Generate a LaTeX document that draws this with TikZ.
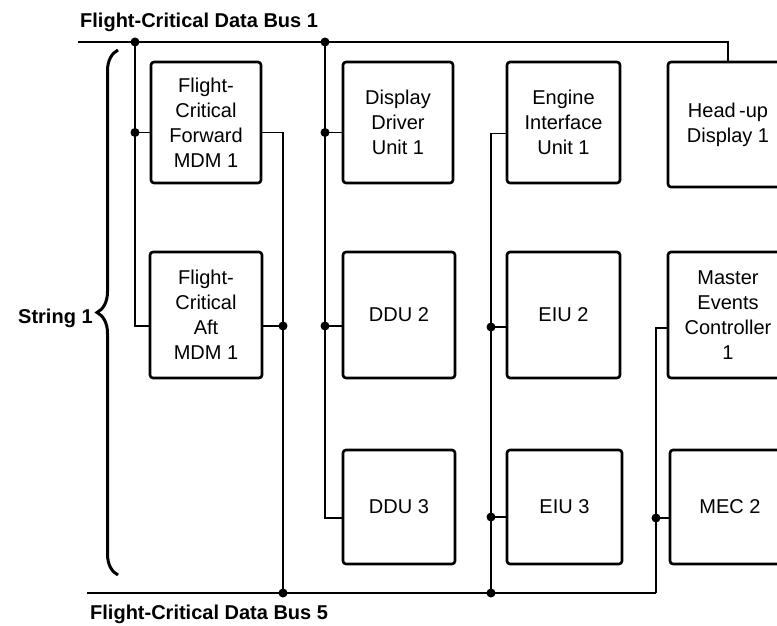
\documentclass[tikz,border=0pt]{standalone}
\usepackage{fontspec}
\setmainfont{Liberation Sans}
\usetikzlibrary{decorations.pathreplacing}

\begin{document}
\begin{tikzpicture}[x=1pt, y=-1pt,
        unit/.style={rectangle, draw=black, line width=2.6pt, rounded corners=3pt,
            minimum width=110pt, minimum height=121pt, inner sep=0pt, align=center,
            font=\fontsize{20}{25}\selectfont},
        wire/.style={draw=black, line width=1.2pt},
        bus/.style={draw=black, line width=1.4pt},
        dot/.style={circle, fill=black, inner sep=0pt, minimum size=9pt},
        lbl/.style={font=\bfseries\fontsize{20}{24}\selectfont, inner sep=0pt}
    ]
        \useasboundingbox (0,0) rectangle (777,626);
        \clip (0,0) rectangle (777,626);

        % Units
        \node[unit] (fwd) at (206,122.5) {Flight-\\Critical\\Forward\\MDM 1};
        \node[unit, minimum width=112pt, minimum height=126pt] (aft) at (206,315) {Flight-\\Critical\\Aft\\MDM 1};
        \node[unit] (ddu1) at (398,122.5) {Display\\Driver\\Unit 1};
        \node[unit, minimum width=112pt, minimum height=126pt] (ddu2) at (399,315) {DDU 2};
        \node[unit, minimum width=112pt, minimum height=114pt] (ddu3) at (399,507) {DDU 3};
        \node[unit, minimum width=113pt] (eiu1) at (563.5,122.5) {Engine\\Interface\\Unit 1};
        \node[unit, minimum width=113pt, minimum height=126pt] (eiu2) at (563.5,315) {EIU 2};
        \node[unit, minimum width=115pt, minimum height=114pt] (eiu3) at (564.5,507) {EIU 3};
        \node[unit, minimum width=120pt, minimum height=125pt] (hud) at (728,124.5) {Head\,-up\\Display 1};
        \node[unit, minimum width=120pt, minimum height=126pt] (mec1) at (728,315) {Master\\Events\\Controller\\1};
        \node[unit, minimum width=120pt, minimum height=114pt] (mec2) at (730,507) {MEC 2};

        % Labels
        \node[lbl, anchor=base west] (bus1) at (80,28) {Flight-Critical Data Bus 1};
        \node[lbl, anchor=base west] (bus5) at (90,619) {Flight-Critical Data Bus 5};
        \node[lbl, anchor=base west] (str1) at (18,323) {String 1};

        % Bus taps
        \coordinate (b1s) at (78,42);
        \coordinate (j1) at (135,42);
        \coordinate (j2) at (325,42);
        \coordinate (b5s) at (87,593);
        \coordinate (j5a) at (283,593);
        \coordinate (j5b) at (491,593);
        \coordinate (b5e) at (656,593);

        % Ports
        \coordinate (fwdL) at ([yshift=-10pt]fwd.west);
        \coordinate (fwdR) at ([yshift=-10pt]fwd.east);
        \coordinate (aftL) at ([yshift=-11pt]aft.west);
        \coordinate (aftR) at ([yshift=-11pt]aft.east);
        \coordinate (ddu1L) at ([yshift=-10pt]ddu1.west);
        \coordinate (ddu2L) at ([yshift=-11pt]ddu2.west);
        \coordinate (ddu3L) at ([yshift=-11pt]ddu3.west);
        \coordinate (eiu1L) at ([yshift=-11pt]eiu1.west);
        \coordinate (eiu2L) at ([yshift=-12pt]eiu2.west);
        \coordinate (eiu3L) at ([yshift=-10pt]eiu3.west);
        \coordinate (mec1L) at ([yshift=-13pt]mec1.west);
        \coordinate (mec2L) at ([yshift=-11pt]mec2.west);

        % Bus 1
        \draw[bus] (b1s) -| (hud.north);
        \draw[wire] (j1) |- (aftL);
        \draw[wire] (j1 |- fwdL) -- (fwdL);
        \draw[wire] (j2) |- (ddu3L);
        \draw[wire] (j2 |- ddu1L) -- (ddu1L);
        \draw[wire] (j2 |- ddu2L) -- (ddu2L);

        % Bus 5
        \draw[bus] (b5s) -- (b5e);
        \draw[wire] (fwdR) -| (j5a);
        \draw[wire] (aftR) -- (j5a |- aftR);
        \draw[wire] (eiu1L) -| (j5b);
        \draw[wire] (j5b |- eiu2L) -- (eiu2L);
        \draw[wire] (j5b |- eiu3L) -- (eiu3L);
        \draw[wire] (mec1L) -| (b5e);
        \draw[wire] (b5e |- mec2L) -- (mec2L);

        % Junctions
        \node[dot] (d1) at (j1) {};
        \node[dot] (d2) at (j1 |- fwdL) {};
        \node[dot] (d3) at (j2) {};
        \node[dot] (d4) at (j2 |- ddu1L) {};
        \node[dot] (d5) at (j2 |- ddu2L) {};
        \node[dot] (d6) at (j5a |- aftR) {};
        \node[dot] (d7) at (j5a) {};
        \node[dot] (d8) at (j5b |- eiu2L) {};
        \node[dot] (d9) at (j5b |- eiu3L) {};
        \node[dot] (d10) at (j5b) {};
        \node[dot] (d11) at (b5e |- mec2L) {};

        % String brace
        \draw[line width=3pt, decorate, decoration={brace, amplitude=21pt}] (118,575) -- (118,50);

    \end{tikzpicture}
\end{document}
